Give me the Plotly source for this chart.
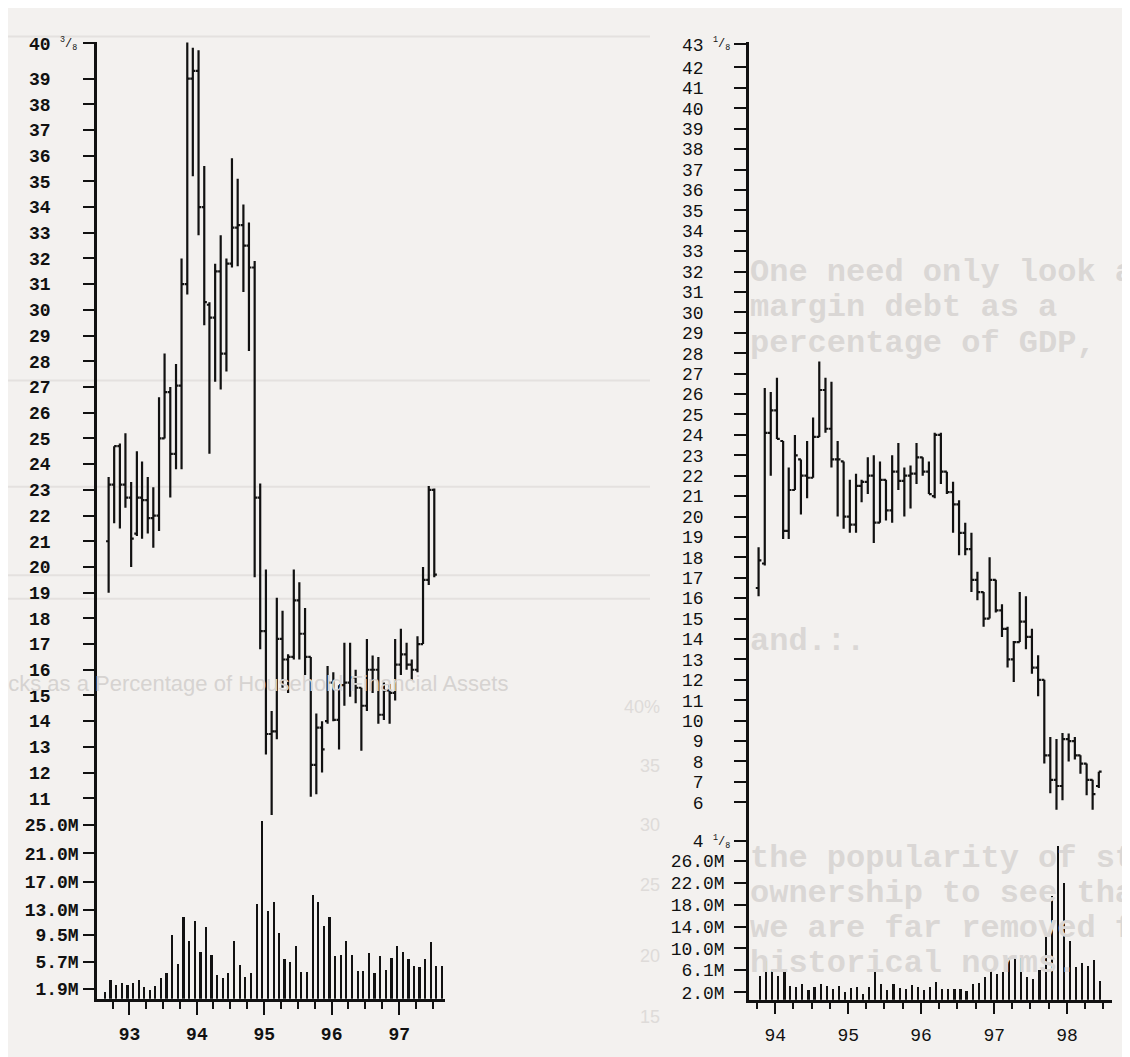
import pandas as pd
import plotly.graph_objects as go

# ---------------- LEFT CHART (monthly, Sep 1992 - Jul 1997) ----------------
left_months = pd.date_range("1992-09-01", periods=59, freq="MS") + pd.Timedelta(days=9)
left_open = [21.0, 23.2, 24.7, 23.2, 22.7, 21.3, 22.7, 22.6, 21.9, 22.0,
             25.0, 26.8, 24.4, 27.05, 31.0, 39.0, 39.3, 34.0, 30.2, 29.7,
             31.5, 28.3, 31.8, 33.2, 33.3, 32.5, 31.65, 22.7, 17.5, 13.5,
             13.6, 17.2, 16.4, 16.5, 18.7, 17.4, 16.5, 12.3, 13.75, 14.0,
             15.5, 14.05, 15.4, 15.5, 15.7, 15.3, 14.6, 16.0, 16.0, 14.25,
             15.2, 15.1, 16.2, 16.6, 16.2, 16.0, 17.0, 19.5, 23.0]
left_high = [23.5, 24.7, 24.8, 25.2, 23.3, 24.5, 24.1, 23.5, 23.1, 26.6,
             28.3, 27.0, 27.9, 32.0, 40.4, 40.2, 40.1, 35.6, 30.3, 31.8,
             32.9, 32.0, 35.9, 35.1, 34.1, 33.4, 31.9, 23.25, 19.9, 14.4,
             18.8, 18.3, 16.6, 19.9, 19.4, 18.4, 16.5, 14.3, 14.0, 16.15,
             15.9, 15.4, 17.05, 17.05, 16.0, 15.3, 17.2, 16.55, 16.5, 15.5,
             15.45, 17.2, 17.6, 17.05, 16.4, 17.3, 20.0, 23.15, 23.05]
left_low = [19.0, 21.7, 21.5, 22.3, 20.0, 21.2, 21.1, 21.3, 20.75, 21.4,
            25.0, 22.7, 23.8, 23.8, 30.6, 35.2, 32.9, 29.4, 24.4, 27.2,
            26.9, 27.6, 31.65, 31.7, 30.7, 28.4, 19.6, 16.8, 12.7, 10.35,
            13.3, 15.3, 15.1, 16.4, 16.4, 15.8, 11.06, 11.16, 12.0, 13.9,
            14.0, 12.9, 14.6, 14.95, 14.7, 12.85, 14.4, 15.1, 13.9, 14.05,
            13.9, 14.8, 15.8, 16.0, 15.6, 15.9, 17.0, 19.3, 19.6]
left_close = [23.2, 24.7, 23.2, 22.7, 21.1, 22.7, 22.6, 21.9, 22.0, 25.0,
              26.8, 24.4, 27.05, 31.0, 39.0, 39.3, 34.0, 30.3, 29.7, 31.5,
              28.3, 31.8, 33.2, 33.3, 32.5, 31.65, 22.7, 17.5, 13.5, 13.6,
              17.2, 16.4, 16.5, 18.7, 17.4, 16.5, 12.3, 13.75, 12.9, 15.5,
              14.05, 15.4, 15.5, 15.7, 15.3, 14.6, 16.0, 16.0, 14.25, 15.2,
              15.1, 16.2, 16.6, 16.2, 16.0, 17.0, 19.5, 23.0, 19.7]

left_vol_months = pd.date_range("1992-08-01", periods=61, freq="MS") + pd.Timedelta(days=21)
left_volume = [1.4, 3.15, 2.45, 2.7, 2.45, 2.7, 3.15, 2.2, 1.8, 2.3,
               3.4, 4.15, 9.5, 5.45, 12.0, 8.6, 11.45, 7.15, 10.6, 6.7,
               3.85, 3.4, 4.1, 8.6, 5.3, 3.6, 4.1, 13.8, 25.5, 12.9,
               14.2, 9.75, 6.15, 5.7, 8.0, 4.3, 4.3, 15.2, 14.1, 10.8,
               12.0, 6.5, 6.7, 8.6, 6.7, 4.4, 4.4, 7.0, 4.2, 6.6,
               4.6, 6.3, 8.0, 7.1, 6.1, 5.2, 5.0, 6.1, 8.5, 5.2, 5.2]

left_price_ticks = [11, 12, 13, 14, 15, 16, 17, 18, 19, 20, 21, 22, 23, 24, 25,
                    26, 27, 28, 29, 30, 31, 32, 33, 34, 35, 36, 37, 38, 39, 40.375]
left_price_labels = [str(v) for v in range(11, 40)] + ["40"]
left_vol_ticks = [1.9, 5.7, 9.5, 13.0, 17.0, 21.0, 25.0]
left_vol_labels = ["1.9M", "5.7M", "9.5M", "13.0M", "17.0M", "21.0M", "25.0M"]

# ---------------- RIGHT CHART (monthly, Oct 1993 - Jun 1998) ----------------
right_months = pd.date_range("1993-10-01", periods=57, freq="MS") + pd.Timedelta(days=8)
right_open = [16.5, 17.7, 24.1, 25.2, 23.7, 19.3, 21.3, 22.8, 22.0, 21.9,
              23.9, 26.2, 24.3, 22.8, 22.7, 20.0, 19.6, 21.5, 21.7, 22.0,
              19.7, 21.8, 20.3, 22.2, 21.75, 22.0, 22.1, 22.9, 22.2, 21.0,
              24.0, 22.2, 21.2, 20.6, 19.2, 18.4, 16.9, 16.3, 15.0, 16.9,
              15.4, 14.5, 13.0, 13.85, 14.85, 14.1, 12.6, 12.0, 8.3, 7.1,
              6.8, 9.1, 9.0, 8.3, 7.9, 7.1, 6.8]
right_high = [18.5, 26.3, 26.1, 26.8, 23.7, 22.4, 24.0, 22.8, 23.7, 24.85,
              27.6, 26.8, 26.6, 23.7, 22.7, 21.8, 22.1, 21.8, 22.9, 23.0,
              22.7, 21.8, 23.0, 23.6, 22.4, 22.5, 23.6, 22.9, 22.7, 24.1,
              24.1, 22.2, 21.7, 20.8, 19.7, 19.2, 17.3, 16.3, 18.0, 16.9,
              15.7, 14.6, 13.9, 16.3, 16.1, 14.5, 13.2, 12.0, 9.2, 9.1,
              9.4, 9.37, 9.2, 8.3, 7.9, 7.1, 7.5]
right_low = [16.1, 17.6, 22.0, 23.8, 18.9, 18.9, 21.3, 20.1, 20.9, 21.9,
             23.9, 24.1, 22.4, 20.0, 19.4, 19.2, 19.2, 20.7, 21.1, 18.7,
             19.7, 19.8, 19.7, 21.3, 20.0, 20.4, 21.6, 22.0, 21.1, 20.9,
             21.6, 21.1, 19.2, 18.1, 18.1, 16.3, 15.9, 14.6, 15.0, 15.3,
             14.1, 12.6, 11.9, 13.85, 13.5, 12.3, 11.2, 7.9, 6.44, 5.64,
             6.1, 8.0, 8.1, 7.4, 6.35, 5.64, 6.7]
right_close = [17.85, 24.1, 25.2, 23.8, 19.3, 21.3, 23.0, 22.0, 21.9, 23.9,
               26.2, 24.3, 22.8, 22.8, 20.0, 19.6, 21.5, 21.7, 22.0, 19.7,
               21.8, 20.3, 22.2, 21.75, 22.0, 22.1, 22.9, 22.2, 21.1, 24.0,
               22.2, 21.2, 20.6, 19.2, 18.4, 16.9, 16.3, 15.0, 16.9, 15.4,
               14.5, 13.0, 13.85, 14.85, 14.1, 12.6, 12.0, 8.3, 7.1, 6.8,
               9.1, 9.0, 8.3, 7.9, 7.1, 6.4, 7.5]

right_vol_months = pd.date_range("1993-10-01", periods=57, freq="MS") + pd.Timedelta(days=16)
right_volume = [5.1, 7.8, 5.9, 5.1, 6.3, 3.3, 3.1, 3.6, 2.5, 3.1,
                3.6, 3.3, 2.7, 3.3, 2.1, 2.9, 3.0, 1.7, 3.1, 6.9,
                3.6, 2.4, 3.6, 2.9, 2.7, 3.4, 3.1, 2.4, 3.1, 3.9,
                2.7, 2.7, 2.7, 2.7, 2.3, 3.6, 3.7, 4.9, 6.3, 5.4,
                5.8, 8.4, 8.8, 8.4, 4.9, 4.4, 6.1, 12.3, 19.6, 28.7,
                22.1, 11.5, 6.6, 7.5, 6.9, 8.0, 4.2]

right_price_ticks = [4.125] + list(range(6, 43)) + [43.125]
right_price_labels = ["4"] + [str(v) for v in range(6, 43)] + ["43"]
right_vol_ticks = [2.0, 6.1, 10.0, 14.0, 18.0, 22.0, 26.0]
right_vol_labels = ["2.0M", "6.1M", "10.0M", "14.0M", "18.0M", "22.0M", "26.0M"]

# faint bleed-through page (reverse side of the scan)
ghost_lines = ["One need only look at", "margin debt as a", "percentage of GDP,",
               "and.:.", "the popularity of stock", "ownership to see that",
               "we are far removed from", "historical norms."]
ghost_axis_labels = ["40%", "35", "30", "25", "20", "15"]

# ---------------- FIGURE ----------------
OFF = 8                      # the page body adds an 8px margin
W, H = 1130 - OFF, 1057 - OFF
BG = "#f3f1ef"
INK = "#111111"
MONO = "Liberation Mono, Courier New, monospace"


def px_x(p):
    return (p - OFF) / W


def px_y(p):
    return 1 - (p - OFF) / H


fig = go.Figure()

bar_line = dict(color=INK, width=2.2)
fig.add_trace(go.Ohlc(x=left_months, open=left_open, high=left_high, low=left_low,
                      close=left_close, xaxis="x", yaxis="y", tickwidth=0.5,
                      increasing=dict(line=bar_line), decreasing=dict(line=bar_line),
                      showlegend=False, hoverinfo="skip"))
fig.add_trace(go.Bar(x=left_vol_months, y=left_volume, xaxis="x", yaxis="y2",
                     marker=dict(color=INK, line=dict(width=0)), width=0.8e9,
                     showlegend=False, hoverinfo="skip"))
fig.add_trace(go.Ohlc(x=right_months, open=right_open, high=right_high, low=right_low,
                      close=right_close, xaxis="x2", yaxis="y3", tickwidth=0.5,
                      increasing=dict(line=bar_line), decreasing=dict(line=bar_line),
                      showlegend=False, hoverinfo="skip"))
fig.add_trace(go.Bar(x=right_vol_months, y=right_volume, xaxis="x2", yaxis="y4",
                     marker=dict(color=INK, line=dict(width=0)), width=0.75e9,
                     showlegend=False, hoverinfo="skip"))

left_font = dict(family=MONO, size=18, color=INK, weight="bold")
right_font = dict(family=MONO, size=18, color=INK)
axis_common = dict(showgrid=False, zeroline=False, showline=True, linecolor=INK,
                   linewidth=2.5, ticks="outside", tickcolor=INK, tickwidth=2)

fig.update_layout(
    width=W, height=H, margin=dict(l=0, r=0, t=0, b=0),
    paper_bgcolor=BG, plot_bgcolor="rgba(0,0,0,0)", bargap=0,
    xaxis=dict(axis_common, type="date", domain=[px_x(97), px_x(445)], anchor="y2",
               range=["1992-07-09", "1997-09-06"], tick0="1993-01-01", dtick="M12",
               tickformat="%y", ticklen=13, ticklabelstandoff=4, tickfont=left_font,
               rangeslider=dict(visible=False),
               minor=dict(dtick="M3", tick0="1993-01-01", ticks="outside", ticklen=7,
                          tickwidth=2, tickcolor=INK, showgrid=False)),
    yaxis=dict(axis_common, domain=[px_y(823), px_y(35)], anchor="x",
               range=[10.31, 40.44], tickmode="array", tickvals=left_price_ticks,
               ticktext=left_price_labels, ticklen=11, ticklabelstandoff=29,
               tickfont=left_font),
    yaxis2=dict(axis_common, domain=[px_y(1009), px_y(823)], anchor="x",
                range=[0.51, 26.27], tickmode="array", tickvals=left_vol_ticks,
                ticktext=left_vol_labels, ticklen=11, ticklabelstandoff=1,
                tickfont=left_font),
    xaxis2=dict(axis_common, type="date", domain=[px_x(749), px_x(1112)], anchor="y4",
                range=["1993-08-22", "1998-08-14"], tick0="1994-01-01", dtick="M12",
                tickformat="%y", ticklen=11, ticklabelstandoff=6, tickfont=right_font,
                rangeslider=dict(visible=False),
                minor=dict(dtick="M3", tick0="1994-01-01", ticks="outside", ticklen=6,
                           tickwidth=2, tickcolor=INK, showgrid=False)),
    yaxis3=dict(axis_common, domain=[px_y(848), px_y(35)], anchor="x2",
                range=[4.125, 43.27], tickmode="array", tickvals=right_price_ticks,
                ticktext=right_price_labels, ticklen=12, ticklabelstandoff=27,
                tickfont=right_font),
    yaxis4=dict(axis_common, domain=[px_y(1010), px_y(848)], anchor="x2",
                range=[0.61, 29.7], tickmode="array", tickvals=right_vol_ticks,
                ticktext=right_vol_labels, ticklen=12, ticklabelstandoff=6,
                tickfont=right_font),
)

# fractional parts of the top / bottom tick labels
frac_font = dict(family=MONO, size=12, color=INK)
for xp, yp, txt in [(68, 37, "<sup>3</sup>/<sub>8</sub>"),
                    (721, 37, "<sup>1</sup>/<sub>8</sub>"),
                    (721, 849, "<sup>1</sup>/<sub>8</sub>")]:
    fig.add_annotation(x=px_x(xp), y=px_y(yp), xref="paper", yref="paper",
                       text=txt, showarrow=False, font=frac_font,
                       xanchor="center", yanchor="middle")

# faint bleed-through structure on the left half
ghost = "#dad7d5"
for yp in [30, 380, 488, 578, 602]:
    fig.add_shape(type="line", xref="paper", yref="paper", layer="below",
                  x0=px_x(0), x1=px_x(650), y0=px_y(yp), y1=px_y(yp),
                  line=dict(color="#e4e1df", width=2))
for yp, txt in zip([712, 772, 832, 893, 965, 1028], ghost_axis_labels):
    fig.add_annotation(x=px_x(662), y=px_y(yp), xref="paper", yref="paper",
                       text=txt, showarrow=False, xanchor="right", yanchor="middle",
                       font=dict(family="Liberation Sans, Arial", size=18, color="#dedbd9"))
fig.add_annotation(x=px_x(-6), y=px_y(688), xref="paper", yref="paper",
                   text="ocks as a Percentage of Household Financial Assets",
                   showarrow=False, xanchor="left", yanchor="middle",
                   font=dict(family="Liberation Sans, Arial", size=22, color="#d6d3d1"))

ghost_font = dict(family=MONO, size=32, color=ghost, weight="bold")
for yp, txt in zip([270, 306, 342, 645, 866, 902, 937, 973], ghost_lines):
    fig.add_annotation(x=px_x(748), y=px_y(yp), xref="paper", yref="paper",
                       text=txt, showarrow=False, font=ghost_font,
                       xanchor="left", yanchor="middle")

fig.write_html("out.html")
